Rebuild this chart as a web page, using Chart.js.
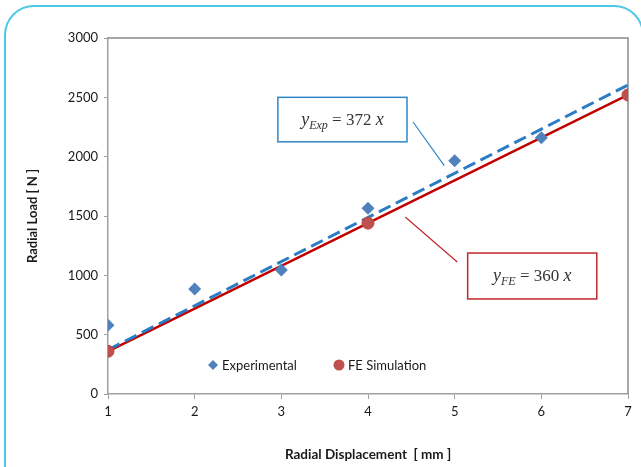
<!DOCTYPE html>
<html>
<head>
<meta charset="utf-8">
<script src="https://cdn.jsdelivr.net/npm/chart.js@4.4.1/dist/chart.umd.min.js"></script>
<style>
  html, body { margin: 0; padding: 0; background: #ffffff; overflow: hidden; }
  #wrap { position: relative; width: 641px; height: 467px; }
  #frame { position: absolute; left: 4px; top: 5px; width: 640px; height: 520px;
           border: 2px solid #4cc8e6; border-radius: 30px; box-sizing: border-box; pointer-events: none; }
  canvas { position: absolute; left: 0; top: 0; }
</style>
</head>
<body>
<div id="wrap">
  <canvas id="c" width="641" height="467"></canvas>
  <div id="frame"></div>
</div>
<script>
// ---- data ----
const expX = [1, 2, 3, 4, 5, 6];
const expY = [580, 885, 1045, 1565, 1965, 2160];
const feX = [1, 4, 7];
const feY = [360, 1440, 2520];
const expTrendX = [1, 7];
const expTrendY = [372, 2604];   // y = 372 x
const feTrendX = [1, 7];
const feTrendY = [360, 2520];    // y = 360 x
const xTicks = [1, 2, 3, 4, 5, 6, 7];
const yTicks = [0, 500, 1000, 1500, 2000, 2500, 3000];
const seriesLabels = ['Experimental', 'FE Simulation'];
const xTitle = 'Radial Displacement  [ mm ]';
const yTitle = 'Radial Load [ N ]';
const expEqSlope = '372';
const feEqSlope = '360';

const pts = (xs, ys) => xs.map((x, i) => ({ x: x, y: ys[i] }));

const BLUE_PT = '#4f81bd';
const RED_PT = '#c0504d';
const BLUE_LINE = '#2a7cc4';
const RED_LINE = '#c00000';
const TEXT = '#1a1a1a';

// plot frame (top/right border)
const framePlugin = {
  id: 'framePlugin',
  beforeDatasetsDraw(chart) {
    const { ctx, chartArea: a } = chart;
    ctx.save();
    ctx.strokeStyle = '#8a8a8a';
    ctx.lineWidth = 1.5;
    ctx.beginPath();
    ctx.moveTo(a.left, a.top);
    ctx.lineTo(a.right, a.top);
    ctx.lineTo(a.right, a.bottom);
    ctx.stroke();
    ctx.restore();
  }
};

// annotations (equation boxes with leader lines), anchored in data coordinates
const annotations = [
  { sub: 'Exp', slope: expEqSlope, color: '#2e86c8',
    box: [2.96, 2500, 4.45, 2125], lead: [4.52, 2292, 4.88, 1925] },
  { sub: 'FE', slope: feEqSlope, color: '#c0282d',
    box: [5.15, 1188, 6.64, 801], lead: [4.43, 1492, 5.03, 1112] }
];
const annoPlugin = {
  id: 'annoPlugin',
  afterDatasetsDraw(chart) {
    const { ctx } = chart;
    const xs = chart.scales.x, ys = chart.scales.y;
    ctx.save();
    annotations.forEach(a => {
      const x1 = xs.getPixelForValue(a.box[0]), y1 = ys.getPixelForValue(a.box[1]);
      const x2 = xs.getPixelForValue(a.box[2]), y2 = ys.getPixelForValue(a.box[3]);
      ctx.strokeStyle = a.color;
      ctx.lineWidth = 1.2;
      ctx.beginPath();
      ctx.moveTo(xs.getPixelForValue(a.lead[0]), ys.getPixelForValue(a.lead[1]));
      ctx.lineTo(xs.getPixelForValue(a.lead[2]), ys.getPixelForValue(a.lead[3]));
      ctx.stroke();
      ctx.fillStyle = '#ffffff';
      ctx.fillRect(x1, y1, x2 - x1, y2 - y1);
      ctx.lineWidth = 1.5;
      ctx.strokeRect(x1, y1, x2 - x1, y2 - y1);
      // text parts
      const parts = [
        { t: 'y', f: 'italic 18px "Liberation Serif"', dy: 0 },
        { t: a.sub, f: 'italic 12px "Liberation Serif"', dy: 4 },
        { t: ' = ' + a.slope + ' ', f: '17px "Liberation Serif"', dy: 0 },
        { t: 'x', f: 'italic 18px "Liberation Serif"', dy: 0 }
      ];
      let w = 0;
      parts.forEach(p => { ctx.font = p.f; p.w = ctx.measureText(p.t).width; w += p.w; });
      let cx = (x1 + x2) / 2 - w / 2;
      const base = (y1 + y2) / 2 + 5;
      ctx.fillStyle = '#333333';
      ctx.textBaseline = 'alphabetic';
      ctx.textAlign = 'left';
      parts.forEach(p => { ctx.font = p.f; ctx.fillText(p.t, cx, base + p.dy); cx += p.w; });
    });
    ctx.restore();
  }
};

// legend drawn inside the plot area near the bottom
const legendPlugin = {
  id: 'insideLegend',
  afterDraw(chart) {
    const { ctx, chartArea: a } = chart;
    const items = chart.data.datasets.filter(d => d.inLegend);
    const cy = a.bottom - 29;
    const starts = [a.left + 105, a.left + 231];
    ctx.save();
    ctx.font = '13px Lato';
    ctx.textBaseline = 'middle';
    ctx.textAlign = 'left';
    items.forEach((d, i) => {
      const mx = starts[i];
      ctx.fillStyle = d.backgroundColor;
      ctx.beginPath();
      if (d.pointStyle === 'rectRot') {
        const r = 5;
        ctx.moveTo(mx, cy - r); ctx.lineTo(mx + r, cy); ctx.lineTo(mx, cy + r); ctx.lineTo(mx - r, cy);
        ctx.closePath();
      } else {
        ctx.arc(mx, cy, 5.5, 0, Math.PI * 2);
      }
      ctx.fill();
      ctx.fillStyle = TEXT;
      ctx.fillText(d.label, mx + 9, cy + 1);
    });
    ctx.restore();
  }
};

new Chart(document.getElementById('c'), {
  type: 'scatter',
  data: {
    datasets: [
      { label: seriesLabels[0], inLegend: true, data: pts(expX, expY), pointStyle: 'rectRot',
        pointRadius: 6.5, backgroundColor: BLUE_PT, borderColor: BLUE_PT, borderWidth: 0, showLine: false },
      { label: seriesLabels[1], inLegend: true, data: pts(feX, feY), pointStyle: 'circle',
        pointRadius: 6, backgroundColor: RED_PT, borderColor: '#b94441', borderWidth: 1, showLine: false },
      { label: 'Exp trend', data: pts(expTrendX, expTrendY), showLine: true, pointRadius: 0,
        borderColor: BLUE_LINE, borderWidth: 3, borderDash: [13, 6], fill: false },
      { label: 'FE trend', data: pts(feTrendX, feTrendY), showLine: true, pointRadius: 0,
        borderColor: RED_LINE, borderWidth: 2.5, fill: false }
    ]
  },
  options: {
    responsive: false,
    animation: false,
    layout: { padding: { left: 0, right: 13, top: 38, bottom: 0 } },
    plugins: { legend: { display: false }, tooltip: { enabled: false } },
    scales: {
      x: {
        type: 'linear', min: 1, max: 7,
        afterBuildTicks: s => { s.ticks = xTicks.map(v => ({ value: v })); },
        afterFit: s => { s.height = 73; },
        ticks: { color: TEXT, font: { family: 'Lato', size: 13 }, padding: 5, callback: v => String(v) },
        grid: { drawOnChartArea: false, drawTicks: true, tickLength: 5, color: '#a0a0a0' },
        border: { display: true, color: '#a0a0a0', width: 1.5 },
        title: { display: true, text: xTitle, color: TEXT,
                 font: { family: 'Lato', size: 13.5, weight: 'bold' }, padding: { top: 0, bottom: 4 } }
      },
      y: {
        type: 'linear', min: 0, max: 3000,
        afterBuildTicks: s => { s.ticks = yTicks.map(v => ({ value: v })); },
        afterFit: s => { s.width = 108; },
        ticks: { color: TEXT, font: { family: 'Lato', size: 13 }, padding: 6, callback: v => String(v) },
        grid: { drawOnChartArea: false, drawTicks: true, tickLength: 4, color: '#a0a0a0' },
        border: { display: true, color: '#a0a0a0', width: 1.5 },
        title: { display: true, text: yTitle, color: TEXT,
                 font: { family: 'Lato', size: 13, weight: 'bold' }, padding: { top: 25, bottom: 0 } }
      }
    }
  },
  plugins: [framePlugin, annoPlugin, legendPlugin]
});
</script>
</body>
</html>
